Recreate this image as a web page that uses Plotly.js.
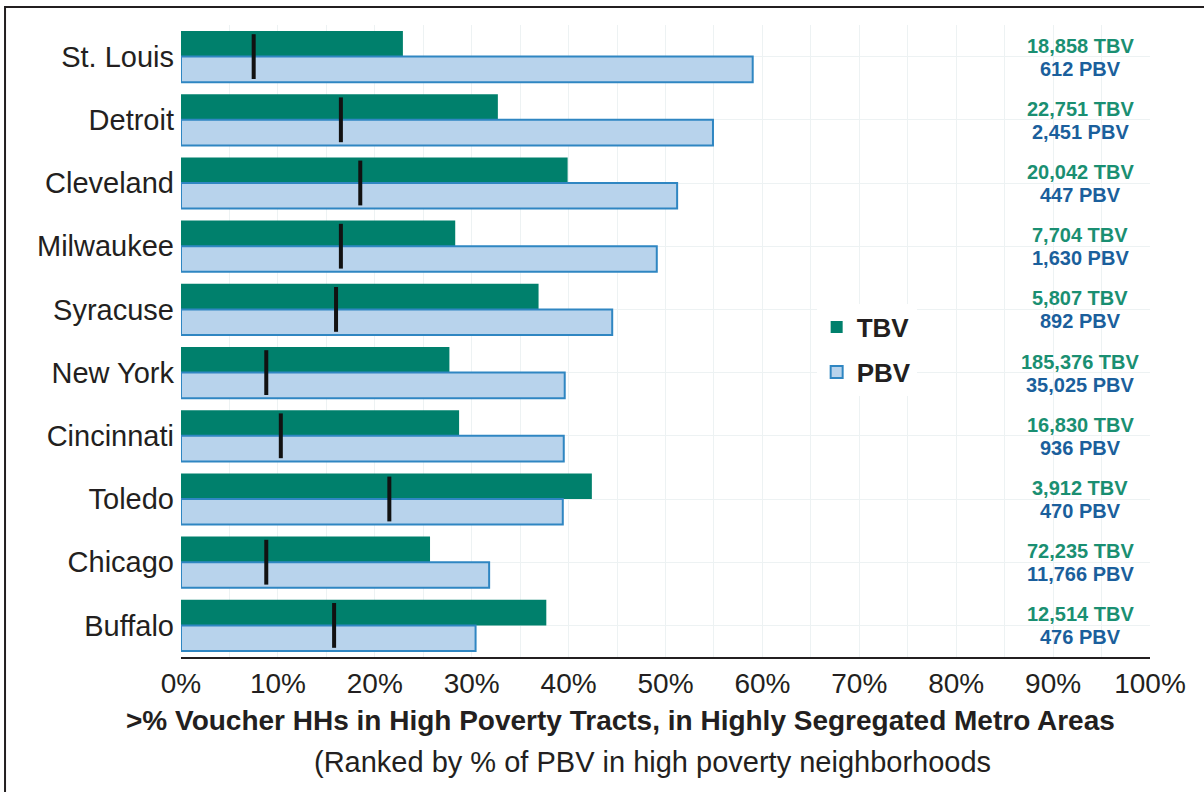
<!DOCTYPE html>
<html>
<head>
<meta charset="utf-8">
<script src="https://cdn.plot.ly/plotly-3.0.1.min.js"></script>
<style>
  html, body { margin: 0; padding: 0; background: #fff; }
  #chart { width: 1204px; height: 792px; }
</style>
</head>
<body>
<div id="chart"></div>
<script>
// ---- data ----
var cities = ['St. Louis', 'Detroit', 'Cleveland', 'Milwaukee', 'Syracuse',
              'New York', 'Cincinnati', 'Toledo', 'Chicago', 'Buffalo'];
var tbvPct = [22.9, 32.7, 39.9, 28.3, 36.9, 27.7, 28.7, 42.4, 25.7, 37.7];
var pbvPct = [59.0, 54.9, 51.2, 49.1, 44.5, 39.6, 39.5, 39.4, 31.8, 30.4];
var markerPct = [7.5, 16.5, 18.5, 16.5, 16.0, 8.8, 10.3, 21.5, 8.8, 15.8];
var tbvCounts = ['18,858', '22,751', '20,042', '7,704', '5,807',
                 '185,376', '16,830', '3,912', '72,235', '12,514'];
var pbvCounts = ['612', '2,451', '447', '1,630', '892',
                 '35,025', '936', '470', '11,766', '476'];
var tickVals = [0, 10, 20, 30, 40, 50, 60, 70, 80, 90, 100];
var tickText = ['0%', '10%', '20%', '30%', '40%', '50%', '60%', '70%', '80%', '90%', '100%'];

var GREEN = '#00806c';
var LIGHTBLUE = '#b8d3ec';
var BLUEEDGE = '#2f86c2';
var TXTGREEN = '#1a8f72';
var TXTBLUE = '#1b5f9c';
var FONT = 'Liberation Sans, Arial, Helvetica, sans-serif';

var traces = [
  {
    type: 'bar', orientation: 'h', name: 'TBV', legendgroup: 'tbv',
    x: tbvPct, y: cities,
    marker: { color: GREEN, line: { width: 0 } },
    hoverinfo: 'x+y'
  },
  {
    type: 'bar', orientation: 'h', name: 'PBV', legendgroup: 'pbv',
    x: pbvPct, y: cities,
    marker: { color: LIGHTBLUE, line: { color: BLUEEDGE, width: 2 } },
    hoverinfo: 'x+y'
  },
  {
    type: 'scatter', mode: 'markers', showlegend: false,
    x: markerPct, y: cities,
    marker: { symbol: 'line-ns', size: 32, color: '#111',
              line: { color: '#111', width: 4 } },
    hoverinfo: 'x+y'
  }
];

var annotations = [];
for (var i = 0; i < cities.length; i++) {
  annotations.push({
    x: 92.8, y: cities[i], xref: 'x', yref: 'y', yshift: 11,
    text: tbvCounts[i] + ' TBV', showarrow: false,
    font: { family: FONT, size: 20, color: TXTGREEN, weight: 'bold' }
  });
  annotations.push({
    x: 92.8, y: cities[i], xref: 'x', yref: 'y', yshift: -12,
    text: pbvCounts[i] + ' PBV', showarrow: false,
    font: { family: FONT, size: 20, color: TXTBLUE, weight: 'bold' }
  });
}
annotations.push({
  x: 0.454, y: -0.100, xref: 'paper', yref: 'paper', showarrow: false,
  xanchor: 'center', yanchor: 'middle',
  text: '<b>>% Voucher HHs in High Poverty Tracts, in Highly Segregated Metro Areas</b>',
  font: { family: FONT, size: 28, color: '#231f20' }
});
annotations.push({
  x: 0.487, y: -0.166, xref: 'paper', yref: 'paper', showarrow: false,
  xanchor: 'center', yanchor: 'middle',
  text: '(Ranked by % of PBV in high poverty neighborhoods',
  font: { family: FONT, size: 29, color: '#231f20' }
});

var layout = {
  width: 1204, height: 792,
  margin: { l: 181, r: 54, t: 25, b: 135 },
  paper_bgcolor: '#fff', plot_bgcolor: '#fff',
  barmode: 'group', bargap: 0.19, bargroupgap: 0,
  font: { family: FONT, color: '#231f20' },
  xaxis: {
    range: [0, 100], tickvals: tickVals, ticktext: tickText,
    showgrid: true, gridcolor: '#edf2f3', gridwidth: 1,
    minor: { dtick: 5, showgrid: true, gridcolor: '#edf2f3', gridwidth: 1 },
    showline: true, linecolor: '#231f20', linewidth: 2,
    zeroline: false, ticks: '',
    tickfont: { family: FONT, size: 28, color: '#231f20' },
    fixedrange: true
  },
  yaxis: {
    type: 'category', range: [9.5, -0.5],
    showgrid: true, gridcolor: '#edf2f3', gridwidth: 1,
    showline: false, zeroline: false, ticks: '',
    ticklabelstandoff: 6,
    tickfont: { family: FONT, size: 29, color: '#231f20' },
    fixedrange: true
  },
  legend: {
    x: 0.656, y: 0.559, xanchor: 'left', yanchor: 'top',
    bgcolor: '#ffffff', borderwidth: 0,
    font: { family: FONT, size: 26, color: '#231f20', weight: 'bold' },
    tracegroupgap: 8, itemwidth: 30
  },
  annotations: annotations,
  shapes: [
    {
      type: 'rect', xref: 'paper', yref: 'paper',
      x0: -0.1816, x1: 1.1, y0: -0.3, y1: 1.0285,
      line: { color: '#231f20', width: 2 }, fillcolor: 'rgba(0,0,0,0)',
      layer: 'below'
    }
  ],
  showlegend: true
};

Plotly.newPlot('chart', traces, layout, { displayModeBar: false, staticPlot: true });
</script>
</body>
</html>
